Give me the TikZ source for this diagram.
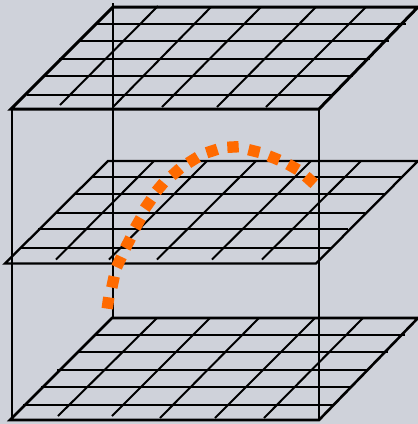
\documentclass[tikz,border=0pt]{standalone}
\definecolor{bgc}{HTML}{CFD2DA}
\definecolor{orng}{HTML}{FF6A00}
\tikzset{
  thinline/.style={line width=2pt,black},
  edgeline/.style={line width=3pt,black,line cap=round},
  postline/.style={line width=2.4pt,black},
  dot/.style={fill=orng,draw=none}
}
\begin{document}
\begin{tikzpicture}[x=1pt,y=-1pt]
\useasboundingbox (0,0) rectangle (418,424);
\fill[bgc] (0,0) rectangle (418,424);
% grids
\foreach \a/\b/\c in {97/406/24,80/389/41,59/370/59,43/353/76,27/334/95}
  \draw[thinline] (\a,\c) -- (\b,\c);
\foreach \a/\b/\c/\d in {158/60/6/105,211/113/7/107,261/162/7/107,316/217/7/107,366/266/7/107}
  \draw[thinline] (\a,\c) -- (\b,\d);
\draw[edgeline] (418,7) -- (113,7) -- (11,109) -- (319,109) -- cycle;
\foreach \a/\b/\c in {92/402/177,75/386/194,55/365/213,38/348/229,20/331/248}
  \draw[thinline] (\a,\c) -- (\b,\c);
\foreach \a/\b in {154/56,207/109,256/157,311/212,361/262}
  \draw[thinline] (\a,161) -- (\b,259.5);
\draw[thinline,line width=2.3pt] (418,161) -- (108,161) -- (5,263.5) -- (316,263.5) -- cycle;
\foreach \a/\b/\c in {95/405/335,78/388/352,57/367/370,41/351/387,23/333/405}
  \draw[thinline] (\a,\c) -- (\b,\c);
\foreach \a/\b/\c in {157/58/416,210/112/416,259/160/418,315/215/418,363/264/418}
  \draw[thinline] (\a,318) -- (\b,\c);
\draw[edgeline,line width=2.6pt] (418,318) -- (112,318) -- (10,420) -- (319,420) -- cycle;
% posts
\draw[postline] (12,109) -- (12,420);
\draw[postline] (319,109) -- (319,420);
\draw[postline] (113,3) -- (113,317);
% orange arc
\foreach \x/\y/\r in {108/303/82,113/282/78,119/262/65,128/243/63,138/223/60,148/204/55,160/187/50,176/172/42,193/160/32,212/151/18,233/147/3,254/151/-14,274/158/-22,293/167/-30,310/180/-42}
  \fill[dot,rotate around={\r:(\x,\y)}] (\x-5.7,\y-5.7) rectangle (\x+5.7,\y+5.7);
\end{tikzpicture}
\end{document}
